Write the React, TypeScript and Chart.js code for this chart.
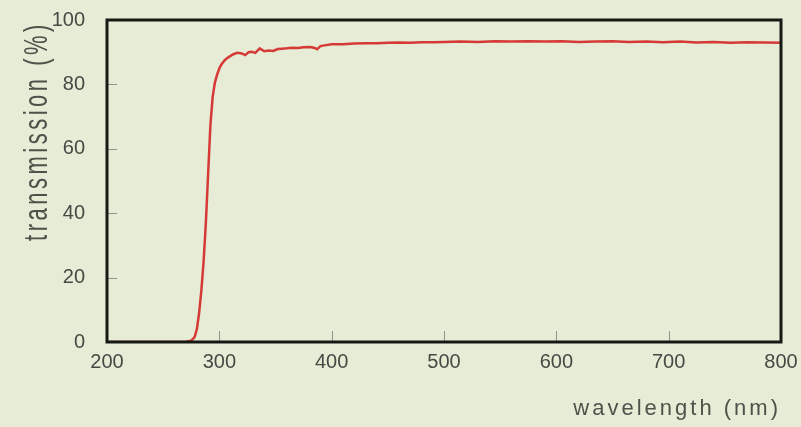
import React, { useEffect, useRef } from "react";
import { Chart, registerables } from "chart.js";

Chart.register(...registerables);

const wavelengths = [
  200, 210, 220, 230, 240, 250, 260, 270, 275, 278, 280, 282, 284, 286, 288, 290, 292, 294, 296, 298,
  300, 302, 305, 308, 312, 316, 320, 323, 326, 329, 332, 336, 340, 344, 348, 352, 356, 360, 365, 370,
  375, 381, 385, 387, 390, 395, 400, 410, 420, 430, 440, 450, 460, 470, 480, 490, 500, 515, 530, 545,
  560, 575, 590, 605, 620, 635, 650, 665, 680, 695, 710, 725, 740, 755, 770, 785, 800,
];
const transmission = [
  0, 0, 0, 0, 0, 0, 0, 0.1, 0.4, 1.5, 4, 9, 16, 25, 37, 52, 67, 76, 80.5, 83,
  85, 86.3, 87.6, 88.4, 89.3, 89.8, 89.6, 89.1, 90.0, 90.1, 89.8, 91.2, 90.3, 90.5, 90.4, 91.0, 91.1, 91.2, 91.4, 91.3,
  91.5, 91.6, 91.3, 90.9, 91.9, 92.2, 92.5, 92.5, 92.7, 92.8, 92.8, 92.9, 93.0, 92.9, 93.1, 93.1, 93.2, 93.3, 93.2, 93.4,
  93.3, 93.4, 93.3, 93.4, 93.2, 93.3, 93.4, 93.2, 93.3, 93.1, 93.3, 93.0, 93.2, 92.9, 93.1, 93.0, 92.9,
];
const xTicks = [200, 300, 400, 500, 600, 700, 800];
const yTicks = [0, 20, 40, 60, 80, 100];
const xTitle = "wavelength (nm)";
const yTitle = "transmission (%)";

const BG = "#e6ecd6";

const decorPlugin = {
  id: "decor",
  beforeDraw(chart: any) {
    const { ctx, width, height } = chart;
    ctx.save();
    ctx.fillStyle = BG;
    ctx.fillRect(0, 0, width, height);
    ctx.restore();
  },
  afterDraw(chart: any) {
    const { ctx, chartArea } = chart;
    const xs = chart.scales.x;
    const ys = chart.scales.y;
    ctx.save();
    ctx.strokeStyle = "#8f948a";
    ctx.lineWidth = 1;
    ctx.beginPath();
    for (const v of yTicks) {
      if (v === 0 || v === 100) continue;
      const y = Math.round(ys.getPixelForValue(v)) + 0.5;
      ctx.moveTo(chartArea.left, y);
      ctx.lineTo(chartArea.left + 10, y);
    }
    for (const v of xTicks) {
      if (v === 200 || v === 800) continue;
      const x = Math.round(xs.getPixelForValue(v)) + 0.5;
      ctx.moveTo(x, chartArea.bottom);
      ctx.lineTo(x, chartArea.bottom - 11);
    }
    ctx.stroke();
    ctx.strokeStyle = "#151a14";
    ctx.lineWidth = 3;
    ctx.strokeRect(chartArea.left, chartArea.top, chartArea.right - chartArea.left, chartArea.bottom - chartArea.top);
    ctx.fillStyle = "#4e524a";
    ctx.font = "22px 'Liberation Sans', Arial, sans-serif";
    (ctx as any).letterSpacing = "3px";
    ctx.textAlign = "right";
    ctx.textBaseline = "alphabetic";
    ctx.fillText(xTitle, 781, 415);
    ctx.restore();

    ctx.save();
    ctx.fillStyle = "#4e524a";
    ctx.font = "22px 'Liberation Sans', Arial, sans-serif";
    (ctx as any).letterSpacing = "3.5px";
    ctx.translate(47, 131);
    ctx.rotate(-Math.PI / 2);
    ctx.scale(1, 1.5);
    ctx.textAlign = "center";
    ctx.textBaseline = "alphabetic";
    ctx.fillText(yTitle, 0, 0);
    ctx.restore();
  },
};

export default function App() {
  const ref = useRef<HTMLCanvasElement | null>(null);
  useEffect(() => {
    if (!ref.current) return;
    const points = wavelengths.map((w, i) => ({ x: w, y: transmission[i] }));
    const chart = new Chart(ref.current, {
      type: "line",
      data: {
        datasets: [
          {
            data: points,
            borderColor: "#d63a36",
            borderWidth: 2.5,
            pointRadius: 0,
            tension: 0,
            fill: false,
          },
        ],
      },
      options: {
        animation: false,
        responsive: false,
        maintainAspectRatio: false,
        events: [],
        layout: { padding: { left: 0, right: 20, top: 20, bottom: 0 } },
        plugins: { legend: { display: false }, tooltip: { enabled: false } },
        scales: {
          x: {
            type: "linear",
            min: 200,
            max: 800,
            afterFit: (s: any) => {
              s.height = 85;
              s.paddingLeft = 0;
              s.paddingRight = 0;
            },
            afterBuildTicks: (s: any) => {
              s.ticks = xTicks.map((v) => ({ value: v }));
            },
            grid: { display: false, drawTicks: false },
            border: { display: false },
            ticks: {
              padding: 8,
              color: "#474a44",
              font: { family: "'Liberation Sans', Arial, sans-serif", size: 20 },
              maxRotation: 0,
            },
          },
          y: {
            min: 0,
            max: 100,
            afterFit: (s: any) => {
              s.width = 107;
              s.paddingTop = 0;
              s.paddingBottom = 0;
            },
            afterBuildTicks: (s: any) => {
              s.ticks = yTicks.map((v) => ({ value: v }));
            },
            grid: { display: false, drawTicks: false },
            border: { display: false },
            ticks: {
              padding: 22,
              color: "#474a44",
              font: { family: "'Liberation Sans', Arial, sans-serif", size: 20 },
            },
          },
        },
      },
      plugins: [decorPlugin],
    });
    return () => chart.destroy();
  }, []);
  return (
    <div style={{ position: "fixed", left: 0, top: 0, width: 801, height: 427, background: BG }}>
      <canvas ref={ref} width={801} height={427} style={{ display: "block", width: 801, height: 427 }} />
    </div>
  );
}
